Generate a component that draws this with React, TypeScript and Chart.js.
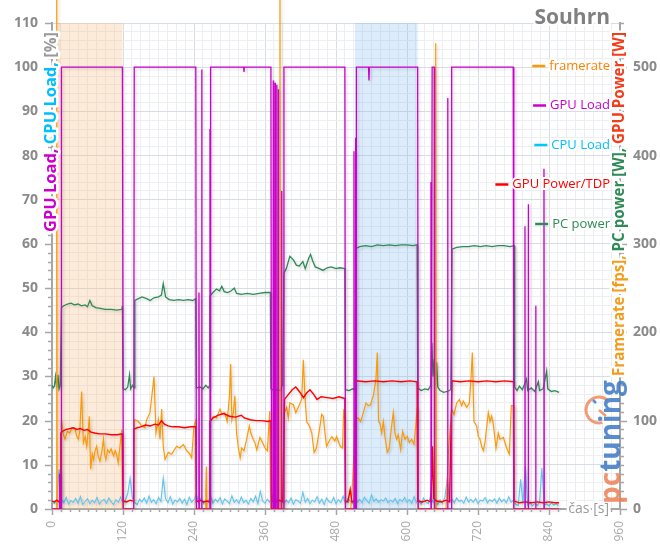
import React, { useEffect, useRef } from 'react';
import { Chart, registerables } from 'chart.js';

Chart.register(...registerables);

// ---------- data ----------
const xLabels = [0, 120, 240, 360, 480, 600, 720, 840, 960];
const yLabels = [0, 10, 20, 30, 40, 50, 60, 70, 80, 90, 100, 110];
const y1Labels = [0, 100, 200, 300, 400, 500];

const legendNames = ['framerate', 'GPU Load', 'CPU Load', 'GPU Power/TDP', 'PC power'];

const orangeBand = [10, 119];
const blueBand = [512, 618];

// framerate [fps] (time s, fps)
const framerate: number[][] = [
  [0, 0], [7.5, 0], [8, 600], [8.8, 0], [14, 0], [15, 60], [16, 101], [19, 85], [22, 79], [26, 88], [30, 86], [34, 92],
  [39, 90], [42, 82], [44.5, 79], [47, 88], [50, 133], [53, 75], [56, 82], [58.6, 71], [61, 86], [63, 105], [65.3, 45],
  [68, 62], [70, 56], [73, 66], [75.5, 71], [78, 60], [81, 54], [84, 64], [87, 79], [89, 62], [91, 56], [94, 67], [97, 64],
  [100, 68], [104, 60], [107, 66], [109, 62], [112, 52], [115, 72], [118, 90], [119, 0],
  [138, 0], [139.5, 101], [146, 99], [151.5, 94], [157, 92], [160, 101], [165.6, 109], [172.4, 150], [175.7, 86],
  [179.7, 101], [182.5, 79], [185.3, 113], [188, 71], [191, 56], [196.6, 64], [202, 62], [206, 66], [210.7, 71], [216, 69],
  [222, 73], [227.6, 66], [233, 62], [236, 58], [240, 94], [243.4, 101], [244, 0],
  [259, 0], [260, 22], [261, 48], [262, 0], [266, 0],
  [267, 99], [273, 105], [278, 103], [284, 113], [287, 107], [292, 109], [296, 99], [300, 128], [302, 164], [304, 101],
  [306.5, 109], [309, 128], [312, 86], [315, 69], [318, 58], [320.5, 69], [324.5, 66], [329, 79], [333.5, 94], [336, 86],
  [340, 79], [343, 75], [346, 67], [351.5, 81], [356, 75], [360, 69], [364, 66], [368, 111], [369.5, 0],
  [384.5, 0], [385.3, 600], [386, 0], [392, 0],
  [392.6, 109], [396.6, 115], [399.4, 103], [402, 120], [408, 118], [412, 109], [416, 115], [422, 124], [424.7, 169],
  [427.5, 128], [430.4, 99], [435, 94], [439, 86], [443, 64], [447, 69], [453, 94], [455.7, 107], [458.5, 105], [461.4, 86],
  [464, 71], [470, 79], [473, 82], [478, 77], [481, 82], [487, 71], [491, 69], [493, 113], [495, 100], [496, 0],
  [505, 0], [508, 30], [510, 60],
  [512, 101], [517.7, 103], [521.6, 99], [526.2, 109], [530.6, 120], [534.5, 117], [538.4, 118], [543, 128], [547.5, 147],
  [549.8, 177], [552, 99], [554.3, 97], [557.1, 86], [560, 99], [562.7, 82], [566.6, 64], [570, 69], [574, 94], [576.8, 109],
  [579.6, 86], [582.4, 79], [585.2, 84], [589.2, 67], [592.6, 88], [596.5, 79], [600.5, 82], [604, 75], [607.8, 79],
  [611.8, 73], [615.2, 97], [617.4, 115], [618.5, 0],
  [647.5, 0], [648.5, 527], [649.5, 0], [666, 0], [670, 64],
  [675.5, 113], [679.4, 107], [684, 120], [688.4, 124], [692.4, 117], [695.2, 122], [700.8, 115], [705.3, 120], [708.1, 147],
  [710.4, 177], [713.2, 99], [717.7, 94], [720.5, 82], [723.3, 79], [726.1, 71], [729, 66], [731.8, 75], [737.4, 109],
  [740.2, 99], [743, 105], [745.9, 96], [750.4, 69], [754.3, 86], [757.1, 79], [762.8, 81], [765.6, 75], [768.4, 69],
  [772.9, 62], [776.3, 117], [779.4, 117], [780.6, 0], [857, 0],
];

// GPU Load [%]
const gpuLoad: number[][] = [
  [0, 0], [12, 0], [13, 8], [14, 0], [15.5, 0], [16, 100], [119, 100], [120.5, 0], [138, 0], [139, 100], [243, 100], [244, 0],
  [248, 0], [248.4, 49], [249, 0], [252.5, 0], [253, 99.5], [253.5, 0], [266.5, 0], [267, 86], [267.5, 0], [268, 100],
  [324, 100], [324.5, 98.9], [325, 100], [370, 100], [371, 0], [373.5, 0], [374, 97], [374.5, 0], [376.5, 0], [377, 96.5],
  [377.5, 0], [379.5, 0], [380, 96], [380.5, 0], [382, 0], [382.5, 95], [383, 0], [387.5, 0], [388, 72], [388.5, 0],
  [391.5, 0], [392, 100], [495, 100], [496, 0], [510, 0], [510.4, 81], [511, 0], [513, 0], [513.2, 84], [514, 0],
  [514.5, 100], [535, 100], [535.7, 97], [536.5, 100], [618, 100], [619, 0], [640, 0], [640.5, 74], [641.2, 0], [642, 0],
  [642.5, 100], [646, 100], [646.5, 0], [668.2, 0], [668.7, 93], [669.2, 0], [675, 0], [675.5, 100], [779.5, 100],
  [780.5, 0], [799, 0], [799.4, 64], [799.8, 0], [804.6, 0], [805, 69], [805.4, 0], [817, 0], [817.5, 46], [818, 0],
  [831, 0], [831.5, 77], [832, 0], [857, 0],
];

// CPU Load [%], one value every cpuStep seconds from 0 s
const cpuStep = 4;
const cpuLoad = [
  1.6, 1.2, 2.0, 9.0, 2.2, 1.4, 2.6, 1.1, 1.9, 1.5,
  2.4, 1.3, 2.8, 1.0, 1.7, 2.3, 1.2, 2.0, 1.4, 2.6,
  1.1, 1.8, 2.2, 1.3, 2.5, 1.6, 1.0, 2.1, 1.5, 2.7,
  1.2, 2.0, 3.5, 7.0, 2.4, 1.4, 1.0, 2.2, 1.6, 2.5,
  1.3, 2.9, 1.5, 2.1, 1.2, 2.6, 1.7, 7.0, 2.3, 1.4,
  2.8, 1.1, 2.0, 1.6, 2.4, 1.3, 2.2, 1.0, 2.7, 1.5,
  2.1, 3.2, 1.4, 2.5, 1.2, 2.0, 1.7, 2.9, 1.3, 2.2,
  1.6, 2.6, 1.1, 2.3, 1.8, 1.2, 3.0, 1.5, 2.1, 1.3,
  2.7, 1.4, 2.0, 1.1, 2.4, 1.6, 2.9, 1.2, 4.0, 1.8,
  1.3, 2.2, 1.5, 3.1, 1.0, 2.3, 1.7, 2.6, 1.2, 2.0,
  1.4, 2.5, 1.1, 2.1, 1.8, 1.3, 3.8, 1.5, 2.4, 1.2,
  2.0, 1.6, 2.8, 1.3, 2.2, 1.0, 2.5, 1.7, 1.4, 2.6,
  1.2, 2.1, 1.5, 2.9, 1.1, 2.4, 1.8, 1.3, 2.6, 1.6,
  2.2, 1.4, 2.7, 1.9, 1.3, 3.2, 1.7, 2.3, 1.5, 2.1,
  1.8, 2.5, 1.4, 2.0, 1.6, 2.4, 1.2, 2.2, 1.7, 2.6,
  1.5, 2.1, 1.3, 2.8, 1.4, 2.0, 1.1, 2.5, 1.6, 1.2,
  3.0, 1.5, 2.3, 1.0, 2.1, 1.4, 2.6, 6.7, 1.8, 2.2,
  1.4, 2.5, 1.7, 2.0, 1.3, 2.7, 1.6, 2.2, 1.5, 2.4,
  1.2, 2.0, 1.8, 2.6, 1.4, 2.1, 1.7, 2.3, 1.3, 2.5,
  1.6, 2.2, 1.4, 2.8, 1.5, 2.0, 1.0, 0.8, 6.7, 1.2,
  9.7, 0.9, 1.4, 0.7, 1.3, 0.8, 1.5, 9.3, 0.9, 1.2,
  0.7, 1.4, 0.9, 1.2, 0.8,
];

// GPU Power [W]
const gpuPower: number[][] = [
  [0, 9], [4, 8], [8, 10], [12, 8], [14, 9], [15, 86], [18, 88], [24, 90], [30, 91], [36, 92], [42, 90], [48, 91], [54, 89],
  [60, 90], [66, 87], [72, 86], [80, 85], [90, 85], [100, 84], [110, 84], [119, 85], [120, 9], [126, 8], [132, 10], [137, 9],
  [138, 90], [144, 92], [150, 93], [158, 95], [166, 94], [174, 96], [180, 95], [185, 100], [190, 96], [196, 94], [204, 93],
  [214, 93], [224, 92], [234, 93], [243, 93], [244, 8], [250, 10], [256, 8], [262, 9], [266, 8], [267, 99], [272, 103],
  [280, 106], [290, 108], [300, 105], [310, 104], [320, 106], [325, 103], [335, 101], [345, 100], [355, 100], [365, 99],
  [370, 100], [371, 9], [378, 8], [384, 10], [390, 8], [393, 124], [400, 130], [406, 135], [412, 138], [418, 133],
  [425, 126], [430, 131], [436, 135], [442, 130], [448, 124], [455, 127], [465, 126], [475, 125], [485, 127], [495, 125],
  [496, 9], [500, 8], [504, 22], [507, 8], [512, 9], [514, 145], [530, 144], [545, 145], [560, 144], [575, 145], [590, 144],
  [605, 145], [617, 144], [618, 9], [626, 8], [634, 10], [640, 8], [642, 40], [643, 71], [645, 12], [650, 9], [658, 8],
  [666, 10], [672, 8], [676, 145], [690, 144], [705, 145], [720, 144], [735, 145], [750, 144], [765, 145], [780, 144],
  [781, 9], [790, 7], [800, 8], [810, 7], [820, 8], [830, 7], [840, 8], [850, 7], [857, 7],
];

// PC power [W]
const pcPower: number[][] = [
  [0, 140], [2, 137], [4, 139], [6, 150], [8, 137], [10, 152], [12, 136], [14, 140], [16, 228], [20, 230], [26, 232],
  [32, 233], [38, 231], [44, 232], [50, 230], [56, 231], [60, 229], [64, 236], [68, 230], [74, 228], [82, 227], [90, 226],
  [100, 226], [110, 225], [118, 226], [119, 230], [120, 136], [124, 135], [128, 138], [131, 152], [133, 136], [136, 140],
  [139, 137], [140, 236], [146, 238], [152, 240], [160, 238], [166, 236], [172, 239], [180, 240], [185, 242], [188, 255],
  [192, 240], [198, 237], [206, 236], [214, 237], [222, 236], [230, 237], [238, 236], [243, 238], [244, 137], [250, 138],
  [255, 136], [260, 140], [264, 137], [266, 139], [267, 241], [272, 245], [278, 249], [283, 247], [287, 252], [291, 246],
  [297, 245], [303, 247], [308, 250], [312, 244], [320, 243], [330, 244], [340, 243], [350, 244], [360, 245], [369, 245],
  [370, 136], [376, 134], [382, 135], [386, 134], [389, 140], [390, 152], [392, 267], [396, 272], [402, 286], [408, 282],
  [413, 276], [418, 275], [424, 280], [428, 272], [434, 284], [437, 288], [441, 280], [445, 274], [452, 272], [458, 270],
  [465, 273], [472, 274], [480, 272], [486, 273], [495, 272], [496, 135], [502, 134], [508, 136], [512, 135], [514, 295],
  [520, 297], [530, 298], [540, 297], [550, 299], [560, 298], [570, 299], [580, 298], [590, 299], [600, 299], [610, 298],
  [617, 299], [618, 137], [624, 134], [630, 136], [636, 135], [640, 140], [642, 188], [644, 150], [646, 170], [648, 140],
  [650, 166], [652, 138], [656, 134], [662, 132], [668, 133], [674, 135], [676, 294], [684, 296], [694, 297], [704, 297],
  [714, 298], [724, 297], [734, 298], [744, 297], [754, 298], [764, 298], [774, 297], [781, 298], [782, 138], [786, 134],
  [790, 139], [795, 135], [802, 147], [804, 134], [810, 137], [816, 133], [822, 144], [824, 134], [830, 136], [836, 156],
  [838, 136], [844, 133], [850, 134], [857, 132],
];

// ---------- styles ----------
const FONT = '"Open Sans", "DejaVu Sans", sans-serif';
const MAJ = '#d8dce4';
const MIN = '#eceef2';
const AXIS = '#a6a6a6';
const C_FPS = '#ff9900';
const C_GPU = '#cc00cc';
const C_CPU = '#5cc6f0';
const C_PWR = '#ff0000';
const C_PC = '#2e8b57';
const legendColors = ['#ff8000', '#cc00cc', '#00bfff', '#ff0000', '#2e8b57'];
const legendLineColors = [C_FPS, C_GPU, '#00c8ff', C_PWR, C_PC];

function fitFont(ctx: CanvasRenderingContext2D, text: string, target: number, weight: string, base: number) {
  ctx.font = `${weight} ${base}px ${FONT}`;
  const w = ctx.measureText(text).width;
  return base * target / w;
}

function drawSegments(ctx: CanvasRenderingContext2D, segs: [string, string][], halo: number) {
  let x = 0;
  for (const [t, c] of segs) {
    ctx.lineJoin = 'round';
    ctx.strokeStyle = '#ffffff';
    ctx.lineWidth = halo;
    ctx.strokeText(t, x, 0);
    ctx.fillStyle = c;
    ctx.fillText(t, x, 0);
    x += ctx.measureText(t).width;
  }
}

const bandPlugin = {
  id: 'bands',
  beforeDatasetsDraw(chart: any) {
    const { ctx, chartArea: a, scales } = chart;
    const x = scales.x;
    ctx.save();
    ctx.fillStyle = 'rgba(248, 190, 130, 0.3)';
    ctx.fillRect(x.getPixelForValue(orangeBand[0]), a.top, x.getPixelForValue(orangeBand[1]) - x.getPixelForValue(orangeBand[0]), a.bottom - a.top);
    ctx.fillStyle = 'rgba(120, 180, 240, 0.26)';
    ctx.fillRect(x.getPixelForValue(blueBand[0]), a.top, x.getPixelForValue(blueBand[1]) - x.getPixelForValue(blueBand[0]), a.bottom - a.top);
    ctx.restore();
    ctx.save();
    ctx.shadowColor = 'rgba(0,0,0,0.18)';
    ctx.shadowBlur = 3;
    ctx.shadowOffsetX = 1.5;
    ctx.shadowOffsetY = 1.5;
  },
  afterDatasetsDraw(chart: any) {
    chart.ctx.restore();
  },
};

const overlayPlugin = {
  id: 'overlay',
  afterDraw(chart: any) {
    const { ctx, chartArea: a, scales } = chart;
    ctx.save();
    // tick marks
    ctx.strokeStyle = AXIS;
    ctx.lineWidth = 1.5;
    ctx.beginPath();
    for (let v = 0; v <= 110; v += 2) {
      const y = Math.round(scales.y.getPixelForValue(v)) + 0.5;
      const len = v % 10 === 0 ? 7 : 4;
      ctx.moveTo(a.left - len, y); ctx.lineTo(a.left, y);
    }
    for (let v = 0; v <= 550; v += 10) {
      const y = Math.round(scales.y1.getPixelForValue(v)) + 0.5;
      const len = v % 100 === 0 ? 7 : 4;
      ctx.moveTo(a.right, y); ctx.lineTo(a.right + len, y);
    }
    for (let t = 0; t <= 960; t += 15) {
      const x = Math.round(scales.x.getPixelForValue(t)) + 0.5;
      const len = t % 120 === 0 ? 6 : 3;
      ctx.moveTo(x, a.bottom); ctx.lineTo(x, a.bottom + len);
    }
    ctx.stroke();

    ctx.textBaseline = 'middle';
    ctx.textAlign = 'left';

    // left axis title
    const leftSegs: [string, string][] = [['GPU Load,', '#cc00cc'], [' CPU Load,', '#00bfff'], [' [%]', '#999999']];
    const leftText = leftSegs.map(s => s[0]).join('');
    const ls = fitFont(ctx, leftText, 200, 'bold', 15);
    ctx.save();
    ctx.font = `bold ${ls}px ${FONT}`;
    ctx.translate(a.left - 0.5, 232);
    ctx.rotate(-Math.PI / 2);
    drawSegments(ctx, leftSegs, 5);
    ctx.restore();

    // right axis title
    const rightSegs: [string, string][] = [['Framerate [fps],', '#f59b1e'], [' PC power [W],', '#2e8b57'], [' GPU Power [W]', '#f23c1a']];
    const rightText = rightSegs.map(s => s[0]).join('');
    const rs = fitFont(ctx, rightText, 344, 'bold', 15);
    ctx.save();
    ctx.font = `bold ${rs}px ${FONT}`;
    ctx.translate(a.right, 376);
    ctx.rotate(-Math.PI / 2);
    drawSegments(ctx, rightSegs, 5);
    ctx.restore();

    // x axis title
    ctx.save();
    ctx.font = `14px ${FONT}`;
    ctx.textAlign = 'right';
    ctx.lineJoin = 'round';
    ctx.strokeStyle = '#fff';
    ctx.lineWidth = 5;
    ctx.strokeText('čas [s]', 609, a.bottom);
    ctx.fillStyle = '#9a9a9a';
    ctx.fillText('čas [s]', 609, a.bottom);
    ctx.restore();

    // chart title
    ctx.save();
    ctx.font = `bold 21px ${FONT}`;
    ctx.textAlign = 'right';
    ctx.lineJoin = 'round';
    ctx.strokeStyle = '#fff';
    ctx.lineWidth = 5;
    ctx.strokeText('Souhrn', 610, 18);
    ctx.fillStyle = '#808080';
    ctx.fillText('Souhrn', 610, 18);
    ctx.restore();

    // legend
    ctx.save();
    ctx.font = `13px ${FONT}`;
    ctx.textAlign = 'right';
    legendNames.forEach((name, i) => {
      const y = 66 + i * 39.5;
      const w = ctx.measureText(name).width;
      ctx.lineJoin = 'round';
      ctx.strokeStyle = '#fff';
      ctx.lineWidth = 4;
      ctx.strokeText(name, 610, y);
      ctx.fillStyle = legendColors[i];
      ctx.fillText(name, 610, y);
      ctx.strokeStyle = legendLineColors[i];
      ctx.lineWidth = 2.5;
      ctx.beginPath();
      ctx.moveTo(610 - w - 17, y);
      ctx.lineTo(610 - w - 4, y);
      ctx.stroke();
    });
    ctx.restore();

    // watermark logo
    ctx.save();
    ctx.globalAlpha = 0.85;
    ctx.strokeStyle = '#f08a5d';
    ctx.lineWidth = 3;
    ctx.beginPath();
    ctx.arc(599, 410, 13, Math.PI * 0.42, Math.PI * 1.72);
    ctx.stroke();
    ctx.lineWidth = 2.5;
    ctx.beginPath();
    ctx.moveTo(599, 410); ctx.lineTo(606, 416);
    ctx.stroke();
    ctx.strokeStyle = '#3f7cc4';
    ctx.beginPath();
    ctx.moveTo(593, 400); ctx.lineTo(596, 403);
    ctx.stroke();
    const logoSegs: [string, string][] = [['pc', '#f07f54'], ['tuning', '#3b78c4']];
    const gs = fitFont(ctx, 'pctuning', 124, 'bold', 18);
    ctx.font = `bold ${gs}px ${FONT}`;
    ctx.translate(612, 504);
    ctx.rotate(-Math.PI / 2);
    let lx = 0;
    for (const [t, c] of logoSegs) {
      ctx.fillStyle = c;
      ctx.fillText(t, lx, 0);
      lx += ctx.measureText(t).width;
    }
    ctx.restore();

    ctx.restore();
  },
};

export default function App() {
  const ref = useRef<HTMLCanvasElement>(null);
  useEffect(() => {
    document.body.style.margin = '0';
    const canvas = ref.current!;
    const toXY = (arr: number[][]) => arr.map(([x, y]) => ({ x, y }));
    const cpuData = cpuLoad.map((v, i) => ({ x: i * cpuStep, y: v }));
    const chart = new Chart(canvas, {
      type: 'line',
      data: {
        datasets: [
          { label: legendNames[0], data: toXY(framerate), yAxisID: 'y1', borderColor: C_FPS, borderWidth: 1.2, order: 3, clip: false } as any,
          { label: legendNames[1], data: toXY(gpuLoad), yAxisID: 'y', borderColor: C_GPU, borderWidth: 1.3, order: 1 },
          { label: legendNames[2], data: cpuData, yAxisID: 'y', borderColor: C_CPU, borderWidth: 1.1, order: 4 },
          { label: legendNames[3], data: toXY(gpuPower), yAxisID: 'y1', borderColor: C_PWR, borderWidth: 1.4, order: 2 },
          { label: legendNames[4], data: toXY(pcPower), yAxisID: 'y1', borderColor: C_PC, borderWidth: 1.3, order: 5 },
        ],
      },
      options: {
        responsive: false,
        animation: false,
        events: [],
        layout: { padding: { top: 23, left: 0, right: 0, bottom: 0 } },
        plugins: { legend: { display: false }, tooltip: { enabled: false }, title: { display: false } },
        elements: { point: { radius: 0 }, line: { tension: 0, fill: false } },
        scales: {
          x: {
            type: 'linear', min: 0, max: 960,
            afterFit: (s: any) => { s.height = 36; },
            ticks: {
              stepSize: 15, autoSkip: false, maxRotation: 90, minRotation: 90, padding: 7,
              color: '#a8a8a8', font: { family: FONT, size: 12 },
              callback: (v: any) => (xLabels.includes(Number(v)) ? String(v) : ''),
            },
            grid: {
              color: (c: any) => (c.tick && c.tick.value % 120 === 0 ? MAJ : MIN),
              tickLength: 5, tickColor: 'rgba(0,0,0,0)',
            },
            border: { color: AXIS, width: 2 },
          },
          y: {
            type: 'linear', position: 'left', min: 0, max: 110,
            afterFit: (s: any) => { s.width = 52; },
            ticks: {
              stepSize: 2, autoSkip: false, padding: 9,
              color: '#8a8a8a', font: { family: FONT, size: 14, weight: 'bold' },
              callback: (v: any) => (yLabels.includes(Number(v)) ? String(v) : ''),
            },
            grid: {
              color: (c: any) => (c.tick && c.tick.value % 10 === 0 ? MAJ : MIN),
              tickLength: 5, tickColor: 'rgba(0,0,0,0)',
            },
            border: { color: AXIS, width: 2 },
          },
          y1: {
            type: 'linear', position: 'right', min: 0, max: 550,
            afterFit: (s: any) => { s.width = 40; },
            ticks: {
              stepSize: 10, autoSkip: false, padding: 8,
              color: '#8a8a8a', font: { family: FONT, size: 14, weight: 'bold' },
              callback: (v: any) => (y1Labels.includes(Number(v)) ? String(v) : ''),
            },
            grid: { drawOnChartArea: false, tickLength: 5, tickColor: 'rgba(0,0,0,0)' },
            border: { color: AXIS, width: 2 },
          },
        },
      } as any,
      plugins: [bandPlugin, overlayPlugin],
    });
    return () => chart.destroy();
  }, []);
  return <canvas ref={ref} width={660} height={545} style={{ display: 'block' }} />;
}
